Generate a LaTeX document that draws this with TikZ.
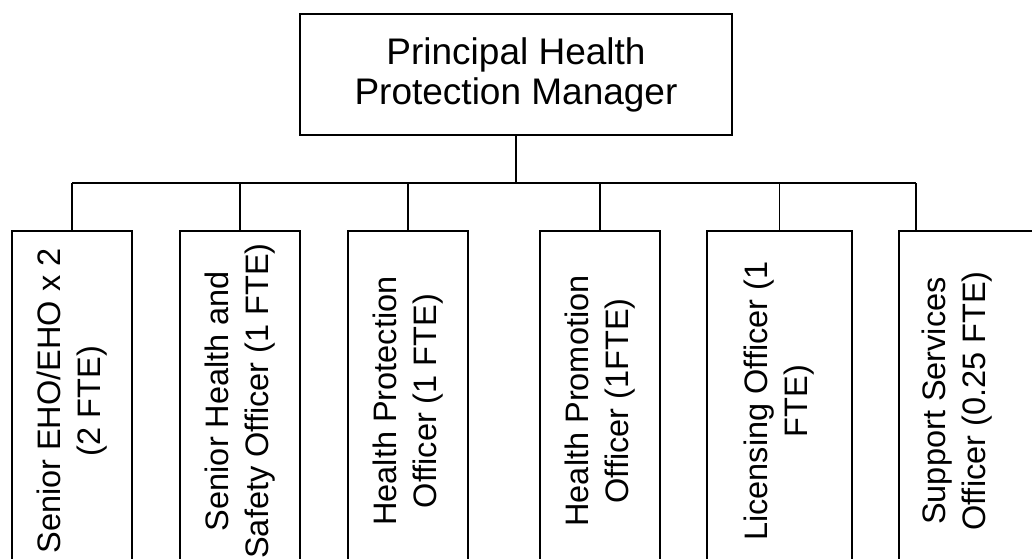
\documentclass[tikz,border=0pt]{standalone}
\usepackage{fontspec}
\setmainfont{Liberation Sans}
\usepackage{graphicx}
\tikzset{boss/.style={draw,line width=1.4pt,minimum width=432pt,minimum height=121pt,inner sep=0pt,align=center,font=\fontsize{37}{40}\selectfont},post/.style={draw,line width=1.4pt,minimum height=340pt,inner sep=0pt,font=\fontsize{32.5}{40}\selectfont},link/.style={line width=1.4pt}}
\newcommand{\uplabel}[1]{\rotatebox{90}{\begin{tabular}{@{}c@{}}#1\end{tabular}}}

\begin{document}
\begin{tikzpicture}[x=1pt,y=-1pt]
  \useasboundingbox (0,0) rectangle (1032,558);
  \clip (0,0) rectangle (1032,558);
  \node[boss] (phpm) at (516,74.5) {Principal Health\\Protection Manager};
  \node[post,minimum width=120pt] (s1) at (72,401) {\uplabel{Senior EHO/EHO x 2\\(2 FTE)}};
  \node[post,minimum width=120pt] (s2) at (240,401) {\uplabel{Senior Health and\\Safety Officer (1 FTE)}};
  \node[post,minimum width=120pt] (s3) at (408,401) {\uplabel{Health Protection\\Officer (1 FTE)}};
  \node[post,minimum width=120pt] (s4) at (600,401) {\uplabel{Health Promotion\\Officer (1FTE)}};
  \node[post,minimum width=145pt] (s5) at (779.5,401) {\uplabel{Licensing Officer (1\\FTE)}};
  \node[post,minimum width=146pt] (s6) at (972,401) {};
  \node[inner sep=0pt,font=\fontsize{32.5}{40}\selectfont] (s6t) at (957,401) {\uplabel{Support Services\\Officer (0.25 FTE)}};
  \coordinate (busl) at (72,183);
  \coordinate (busr) at (916,183);
  \coordinate (s6in) at (916,231);
  \draw[link] (busl) -- (busr)
    (phpm.south) -- (phpm.south |- busl)
    (s6in) -- (busr);
  \foreach \n in {1,...,5}
    \draw[link] (s\n.north) -- (s\n.north |- busl);
\end{tikzpicture}
\end{document}
